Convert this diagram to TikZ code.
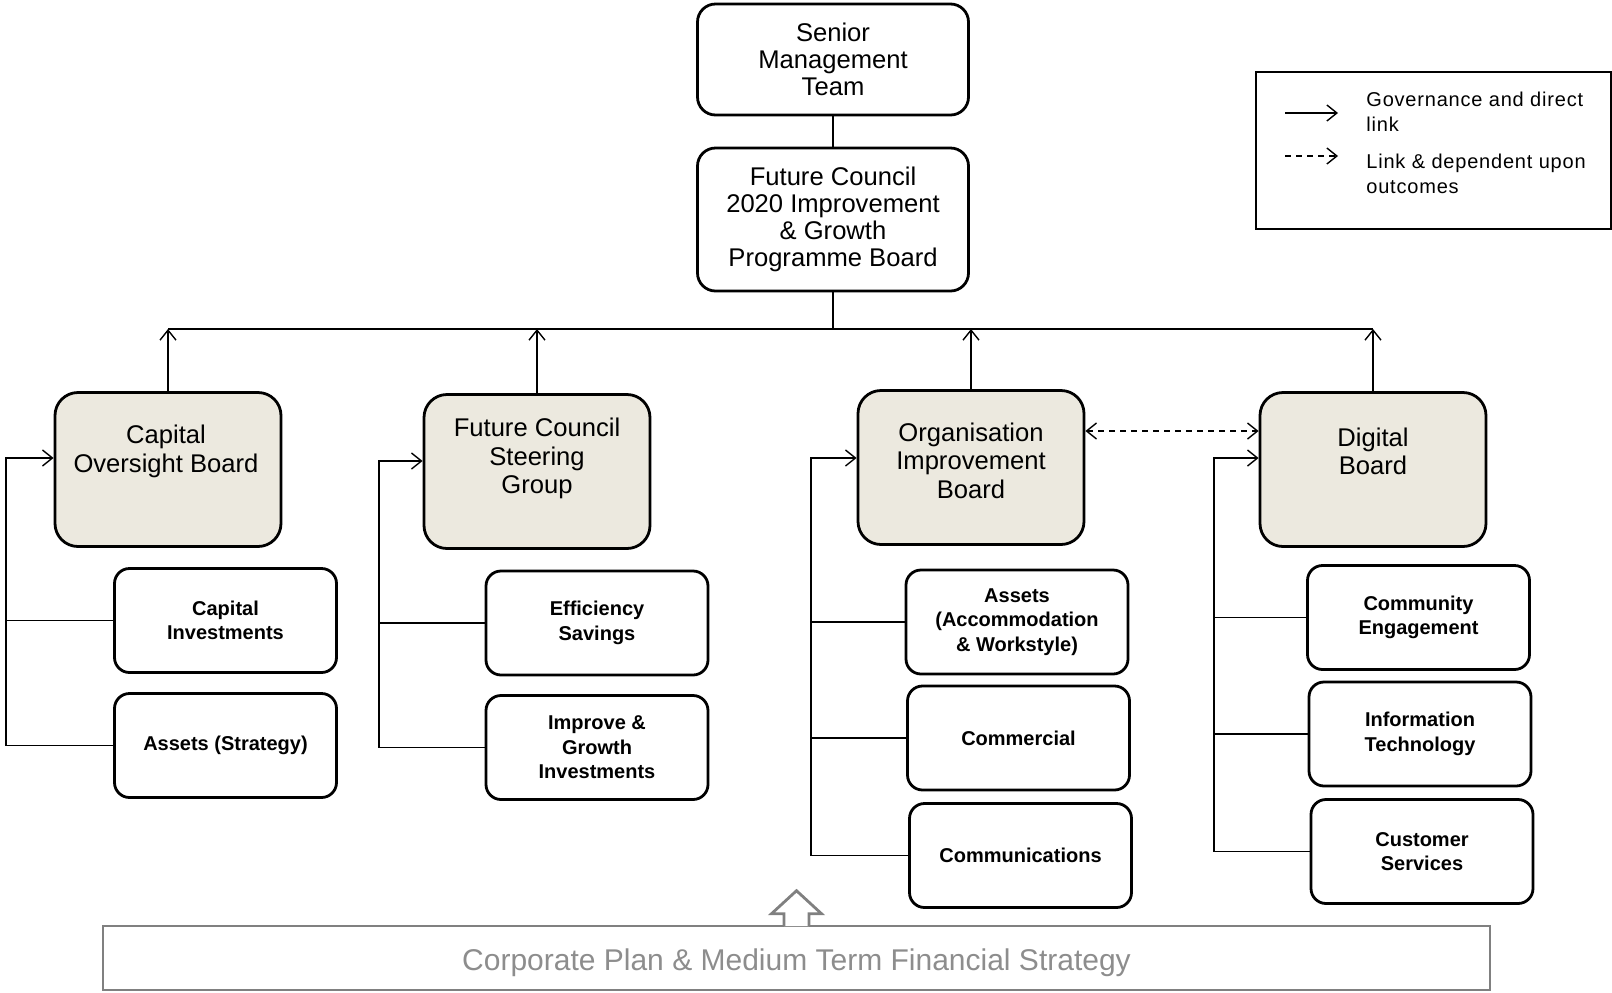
\documentclass[tikz,border=0pt]{standalone}
\usepackage{fontspec}
\setmainfont{Liberation Sans}
\usetikzlibrary{arrows.meta}
\definecolor{boardfill}{RGB}{236,233,223}
\definecolor{plangrey}{RGB}{128,128,128}
\tikzset{>={Straight Barb[length=5pt,width=8pt]}}

\begin{document}
\begin{tikzpicture}[x=0.5pt, y=-0.5pt,
    topbox/.style={draw, line width=1.4pt, rounded corners=9pt, minimum width=135.5pt, inner sep=0pt, align=center, font=\fontsize{12.8}{13.6}\selectfont},
    boardbox/.style={draw, line width=1.4pt, rounded corners=11.5pt, fill=boardfill, minimum width=113pt, minimum height=77pt, inner sep=0pt},
    boardtext/.style={inner sep=0pt, align=center, font=\fontsize{12.8}{14.2}\selectfont},
    subbox/.style={draw, line width=1.4pt, rounded corners=7.5pt, minimum width=111pt, minimum height=52pt, inner sep=0pt, align=center, font=\bfseries\fontsize{10}{12.2}\selectfont},
    plainlink/.style={line width=0.7pt},
    govlink/.style={line width=0.7pt, ->},
    deplink/.style={line width=0.7pt, dash pattern=on 3pt off 2.5pt},
    legendtext/.style={anchor=west, inner sep=0pt, align=left, font=\fontsize{10}{12.5}\selectfont\addfontfeatures{LetterSpace=4}}]
\useasboundingbox (0,0) rectangle (1612,992) ;

% top of the programme
\node[topbox, minimum height=55.5pt] (smt) at (833,59.5) {Senior\\Management\\Team} ;
\node[topbox, minimum height=71.5pt] (prog) at (833,219.5) {Future Council\\2020 Improvement\\\& Growth\\Programme Board} ;
\coordinate (bus) at (833,329) ;

% boards
\node[boardbox] (cob) at (168,469.5) {} ;
\node[boardtext] (cobtxt) at (166,451.5) {Capital\\Oversight Board} ;
\node[boardbox] (steer) at (537,471.5) {} ;
\node[boardtext] (steertxt) at (537,458.5) {Future Council\\Steering\\Group} ;
\node[boardbox] (org) at (971,467.5) {} ;
\node[boardtext] (orgtxt) at (971,460.5) {Organisation\\Improvement\\Board} ;
\node[boardbox] (dig) at (1373,469.5) {} ;
\node[boardtext] (digtxt) at (1373,451.5) {Digital\\Board} ;

% workstreams
\node[subbox] (capinv) at (225.5,620.5) {Capital\\Investments} ;
\node[subbox] (capast) at (225.5,745.5) {Assets (Strategy)} ;
\node[subbox] (effsav) at (597,623) {Efficiency\\Savings} ;
\node[subbox] (imprv) at (597,747.5) {Improve \&\\Growth\\Investments} ;
\node[subbox] (assacc) at (1017,622) {Assets\\(Accommodation\\\& Workstyle)} ;
\node[subbox] (comrc) at (1018.5,738) {Commercial} ;
\node[subbox] (comms) at (1020.5,855.5) {Communications} ;
\node[subbox] (cenga) at (1418.5,617.5) {Community\\Engagement} ;
\node[subbox] (infot) at (1420,734) {Information\\Technology} ;
\node[subbox] (custs) at (1422,851.5) {Customer\\Services} ;

% governance lines
\draw[plainlink] (smt) -- (prog) ;
\draw[plainlink] (prog.south) -- (bus) ;
\draw[plainlink] (cob.north |- bus) -- (dig.north |- bus) ;
\foreach \b in {cob,steer,org,dig}
    \draw[govlink] (\b.north) -- (\b.north |- bus) ;

\coordinate (cobin) at (6,458) ;
\draw[govlink] (capast.west) -| (cobin) -- (cobin -| cob.west) ;
\draw[plainlink] (capinv.west) -- (capinv.west -| cobin) ;

\coordinate (steerin) at (379,461) ;
\draw[govlink] (imprv.west) -| (steerin) -- (steerin -| steer.west) ;
\draw[plainlink] (effsav.west) -- (effsav.west -| steerin) ;

\coordinate (orgin) at (811,458) ;
\draw[govlink] (comms.west) -| (orgin) -- (orgin -| org.west) ;
\draw[plainlink] (assacc.west) -- (assacc.west -| orgin) ;
\draw[plainlink] (comrc.west) -- (comrc.west -| orgin) ;

\coordinate (digin) at (1214,458) ;
\draw[govlink] (custs.west) -| (digin) -- (digin -| dig.west) ;
\draw[plainlink] (cenga.west) -- (cenga.west -| digin) ;
\draw[plainlink] (infot.west) -- (infot.west -| digin) ;

\coordinate (dlink) at (1170,431) ;
\draw[deplink, <->] (org.east |- dlink) -- (dig.west |- dlink) ;

% legend
\node[draw, line width=0.8pt, minimum width=177.5pt, minimum height=78.5pt, inner sep=0pt] (legend) at (1433.5,150.5) {} ;
\coordinate (govA) at (1285,113) ;
\coordinate (govB) at (1338,113) ;
\coordinate (depA) at (1285,156) ;
\coordinate (depB) at (1338,156) ;
\draw[govlink] (govA) -- (govB) ;
\draw[deplink, ->] (depA) -- (depB) ;
\node[legendtext] (govtxt) at (1366,112) {Governance and direct\\link} ;
\node[legendtext] (deptxt) at (1366,174) {Link \& dependent upon\\outcomes} ;

% corporate plan
\node[draw=plangrey, line width=1.4pt, minimum width=693.5pt, minimum height=32pt, inner sep=0pt, text height=16pt, text=plangrey!90, font=\fontsize{15}{18}\selectfont] (plan) at (796.5,958) {Corporate Plan \& Medium Term Financial Strategy} ;
\filldraw[fill=white, draw=plangrey, line width=1.4pt] ([xshift=-6.25pt, yshift=-0.8pt]plan.north) -- ++(0,-12.5) -- ++(-12.5,0) -- ++(25,-23) -- ++(25,23) -- ++(-12.5,0) -- ++(0,12.5) ;
\end{tikzpicture}
\end{document}
